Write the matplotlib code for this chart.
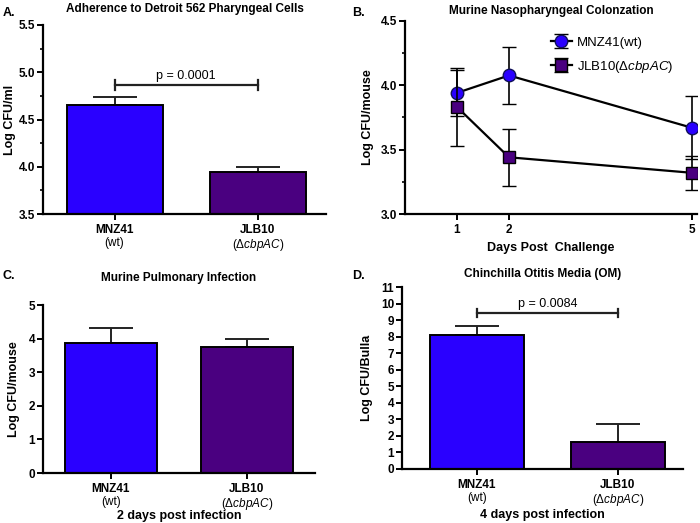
import numpy as np
import matplotlib
matplotlib.use("Agg")
from matplotlib import pyplot as plt

plt.rcParams["font.family"] = ["Liberation Sans", "DejaVu Sans"]
plt.rcParams["font.weight"] = "bold"
plt.rcParams["mathtext.fontset"] = "custom"
plt.rcParams["mathtext.it"] = "Liberation Sans:italic:normal"
plt.rcParams["mathtext.rm"] = "Liberation Sans:normal"

BLUE = "#2a00ff"
PURPLE = "#4a0080"

strains = ["MNZ41", "JLB10"]
strain_sub = ["(wt)", "($\\mathit{\u0394cbpAC}$)"]

# A. adherence
adh_mean = [4.657, 3.944]
adh_err = [0.078, 0.056]

# B. nasopharyngeal colonization
days = [1, 2, 5]
np_wt = [3.94, 4.075, 3.67]
np_wt_err = [0.18, 0.22, 0.245]
np_ko = [3.83, 3.44, 3.32]
np_ko_err = [0.30, 0.22, 0.13]

# C. pulmonary
pul_mean = [3.87, 3.76]
pul_err = [0.45, 0.24]

# D. otitis media
om_mean = [8.09, 1.63]
om_err = [0.58, 1.10]

fig = plt.figure(figsize=(7, 5.23), dpi=100)


def style(ax):
    for s in ["top", "right"]:
        ax.spines[s].set_visible(False)
    for s in ["left", "bottom"]:
        ax.spines[s].set_linewidth(1.6)
    ax.tick_params(direction="out", width=1.4, length=4, labelsize=8.5)
    ax.tick_params(axis="y", pad=1.5)
    ax.tick_params(which="minor", direction="out", width=1.2, length=2.5)
    for lab in ax.get_yticklabels():
        lab.set_fontweight("bold")


def bars(ax, means, errs):
    x = np.arange(len(means))
    ax.bar(x, means, width=0.67, color=[BLUE, PURPLE], edgecolor="black",
           linewidth=1.4, zorder=2)
    ax.errorbar(x, means, yerr=[np.zeros(len(errs)), errs], fmt="none",
                ecolor="#222222", elinewidth=1.4, capsize=16, capthick=1.4, zorder=1)
    ax.set_xticks(x)
    ax.set_xticklabels(strains, fontsize=9, fontweight="bold")
    ax.tick_params(axis="x", pad=3)
    for xi, sub in zip(x, strain_sub):
        ax.annotate(sub, (xi, 0), xycoords=("data", "axes fraction"),
                    xytext=(0, -16.5), textcoords="offset points", ha="center",
                    va="top", fontsize=8.5, fontweight="normal")


def bracket(ax, y, h, text, ty):
    ax.plot([0, 1], [y, y], color="#222222", lw=1.6)
    ax.plot([0, 0], [y - h, y + h], color="#222222", lw=1.6)
    ax.plot([1, 1], [y - h, y + h], color="#222222", lw=1.6)
    ax.text(0.5, ty, text, ha="center", va="bottom", fontsize=9, fontweight="normal")


# ---- A ----
axA = fig.add_axes([0.0614, 0.5908, 0.405, 0.3614])
bars(axA, adh_mean, adh_err)
axA.set_ylim(3.5, 5.5)
axA.set_xlim(-0.5, 1.48)
axA.set_yticks([3.5, 4.0, 4.5, 5.0, 5.5])
axA.set_yticks(np.arange(3.75, 5.5, 0.5), minor=True)
axA.set_ylabel("Log CFU/ml", fontsize=9, fontweight="bold", labelpad=2)
axA.set_title("Adherence to Detroit 562 Pharyngeal Cells", fontsize=8.5,
              fontweight="bold", pad=9)
bracket(axA, 4.865, 0.055, "p = 0.0001", 4.9)
style(axA)

# ---- B ----
brk_in = [0, 1, 2, 5, 6]
brk_out = [0, 1, 2, 5.51, 6.68]


def fwd(v):
    return np.interp(v, brk_in, brk_out)


def inv(v):
    return np.interp(v, brk_out, brk_in)


axB = fig.add_axes([0.5786, 0.5908, 0.4171, 0.3697])
axB.set_xscale("function", functions=(fwd, inv))
axB.errorbar(days, np_wt, yerr=np_wt_err, color="black", lw=1.6, elinewidth=1.2,
             capsize=5, capthick=1.2, marker="o", markersize=9,
             markerfacecolor=BLUE, markeredgecolor="#10105a", markeredgewidth=1,
             label="MNZ41(wt)", zorder=3)
axB.errorbar(days, np_ko, yerr=np_ko_err, color="black", lw=1.6, elinewidth=1.2,
             capsize=5, capthick=1.2, marker="s", markersize=9,
             markerfacecolor=PURPLE, markeredgecolor="black", markeredgewidth=1,
             label="JLB10($\\mathit{\u0394cbpAC}$)", zorder=4)
axB.set_xlim(0, 5.09)
axB.set_ylim(3.0, 4.5)
axB.set_xticks(days)
axB.set_xticklabels([str(d) for d in days], fontweight="bold", fontsize=9)
axB.set_yticks([3.0, 3.5, 4.0, 4.5])
axB.set_yticks([3.25, 3.75, 4.25], minor=True)
axB.set_ylabel("Log CFU/mouse", fontsize=9, fontweight="bold", labelpad=5)
axB.set_xlabel("Days Post  Challenge", fontsize=9, fontweight="bold", labelpad=4)
axB.set_title("Murine Nasopharyngeal Colonzation", fontsize=8.5, fontweight="bold", pad=5)
leg = axB.legend(loc="upper right", bbox_to_anchor=(0.96, 0.98), frameon=False,
                 fontsize=9.5, handlelength=1.6, handletextpad=0.4, labelspacing=0.75)
for t in leg.get_texts():
    t.set_fontweight("normal")
style(axB)

# ---- C ----
axC = fig.add_axes([0.0614, 0.0956, 0.3886, 0.3212])
bars(axC, pul_mean, pul_err)
axC.set_ylim(0, 5)
axC.set_xlim(-0.5, 1.5)
axC.set_yticks(range(0, 6))
axC.set_ylabel("Log CFU/mouse", fontsize=9, fontweight="bold", labelpad=6)
axC.set_xlabel("2 days post infection", fontsize=9, fontweight="bold", labelpad=11)
axC.set_title("Murine Pulmonary Infection", fontsize=8.5, fontweight="bold", pad=17)
style(axC)

# ---- D ----
axD = fig.add_axes([0.5743, 0.1033, 0.4014, 0.3479])
bars(axD, om_mean, om_err)
axD.set_ylim(0, 11)
axD.set_xlim(-0.53, 1.46)
axD.set_yticks(range(0, 12))
axD.set_ylabel("Log CFU/Bulla", fontsize=9, fontweight="bold", labelpad=6)
axD.set_xlabel("4 days post infection", fontsize=9, fontweight="bold", labelpad=13.5)
axD.set_title("Chinchilla Otitis Media (OM)", fontsize=8.5, fontweight="bold", pad=7)
bracket(axD, 9.43, 0.27, "p = 0.0084", 9.6)
style(axD)

for lab, x, y in [("A.", 0.004, 0.975), ("B.", 0.503, 0.975),
                  ("C.", 0.003, 0.472), ("D.", 0.503, 0.472)]:
    fig.text(x, y, lab, fontsize=9, fontweight="bold", ha="left", va="center")

fig.savefig("out.png", dpi=100)
